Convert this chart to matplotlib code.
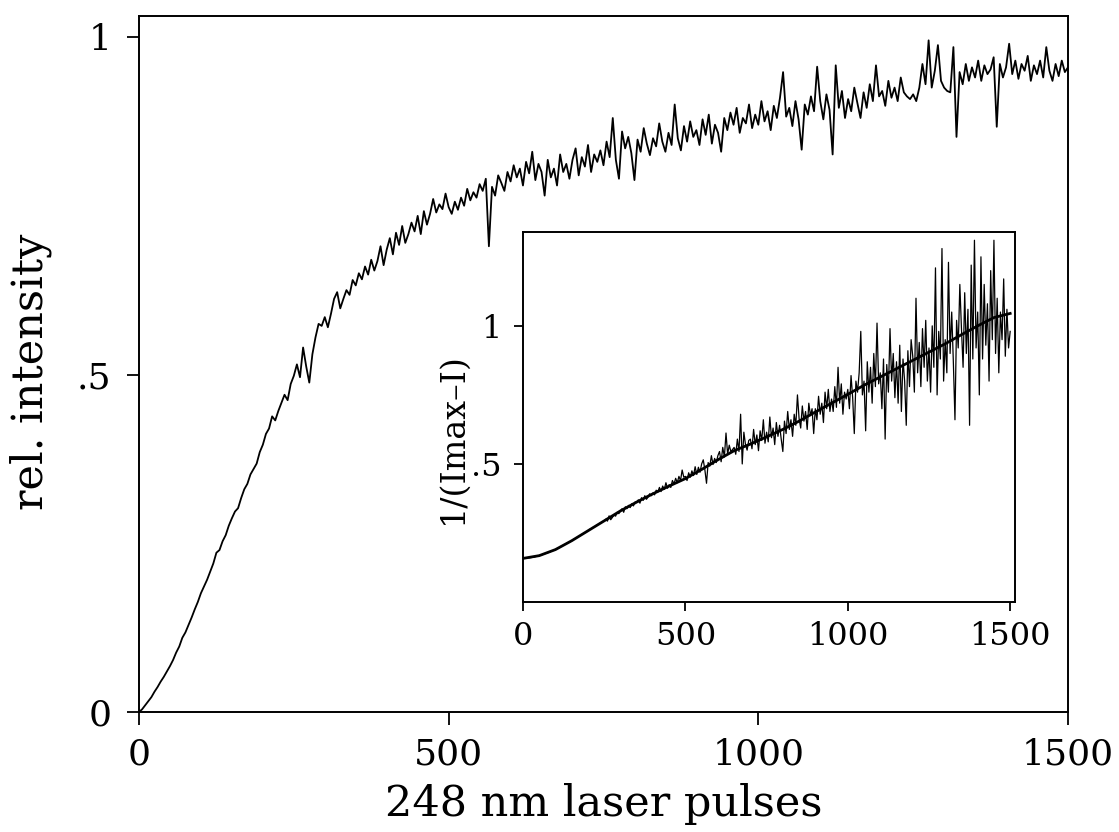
import numpy as np
import matplotlib
matplotlib.use('Agg')
import matplotlib.pyplot as plt

plt.rcParams['font.family'] = 'DejaVu Serif'

# main trace: rel. intensity, one value every 5 laser pulses (0 ... 1500)
pulse_step = 5
intensity = [
    0.000, 0.004, 0.010, 0.016, 0.022, 0.030, 0.037, 0.045, 0.052, 0.060,
    0.068, 0.077, 0.088, 0.097, 0.110, 0.118, 0.129, 0.140, 0.152, 0.163,
    0.176, 0.186, 0.196, 0.208, 0.220, 0.236, 0.240, 0.253, 0.262, 0.276,
    0.287, 0.297, 0.302, 0.317, 0.330, 0.338, 0.352, 0.360, 0.368, 0.385,
    0.396, 0.412, 0.420, 0.438, 0.432, 0.446, 0.458, 0.470, 0.462, 0.486,
    0.498, 0.515, 0.496, 0.540, 0.512, 0.488, 0.530, 0.555, 0.575, 0.572,
    0.585, 0.570, 0.590, 0.612, 0.622, 0.598, 0.612, 0.625, 0.618, 0.640,
    0.632, 0.650, 0.641, 0.660, 0.648, 0.670, 0.654, 0.668, 0.690, 0.662,
    0.685, 0.702, 0.678, 0.710, 0.692, 0.720, 0.695, 0.708, 0.725, 0.712,
    0.735, 0.708, 0.742, 0.722, 0.738, 0.760, 0.740, 0.752, 0.745, 0.768,
    0.748, 0.738, 0.756, 0.744, 0.762, 0.750, 0.775, 0.758, 0.770, 0.762,
    0.782, 0.772, 0.790, 0.690, 0.778, 0.765, 0.795, 0.784, 0.772, 0.800,
    0.786, 0.810, 0.792, 0.805, 0.780, 0.815, 0.798, 0.830, 0.788, 0.812,
    0.800, 0.765, 0.818, 0.792, 0.805, 0.780, 0.826, 0.800, 0.812, 0.790,
    0.818, 0.835, 0.795, 0.822, 0.808, 0.840, 0.800, 0.826, 0.815, 0.832,
    0.810, 0.845, 0.822, 0.880, 0.818, 0.790, 0.860, 0.835, 0.852, 0.828,
    0.788, 0.848, 0.830, 0.865, 0.842, 0.825, 0.850, 0.838, 0.872, 0.845,
    0.830, 0.858, 0.840, 0.900, 0.850, 0.832, 0.868, 0.845, 0.875, 0.852,
    0.862, 0.840, 0.878, 0.855, 0.885, 0.842, 0.870, 0.858, 0.830, 0.880,
    0.862, 0.888, 0.870, 0.895, 0.858, 0.880, 0.872, 0.900, 0.865, 0.885,
    0.870, 0.905, 0.875, 0.890, 0.862, 0.898, 0.880, 0.910, 0.948, 0.882,
    0.895, 0.868, 0.905, 0.878, 0.833, 0.900, 0.885, 0.912, 0.890, 0.956,
    0.905, 0.878, 0.915, 0.892, 0.826, 0.958, 0.895, 0.920, 0.880, 0.908,
    0.890, 0.925, 0.902, 0.880, 0.918, 0.895, 0.930, 0.905, 0.958, 0.912,
    0.920, 0.898, 0.935, 0.910, 0.925, 0.905, 0.940, 0.918, 0.912, 0.908,
    0.915, 0.905, 0.925, 0.960, 0.930, 0.995, 0.925, 0.950, 0.988, 0.935,
    0.925, 0.920, 0.918, 0.985, 0.852, 0.948, 0.930, 0.960, 0.935, 0.955,
    0.940, 0.965, 0.935, 0.958, 0.945, 0.952, 0.970, 0.867, 0.960, 0.940,
    0.955, 0.990, 0.945, 0.965, 0.938, 0.960, 0.950, 0.972, 0.935, 0.958,
    0.945, 0.965, 0.940, 0.985, 0.950, 0.935, 0.960, 0.942, 0.965, 0.948,
    0.955,
]

# inset: 1/(Imax-I), same pulse grid
inv_data = [
    0.158, 0.158, 0.159, 0.160, 0.160, 0.161, 0.162, 0.163, 0.165, 0.166,
    0.168, 0.170, 0.172, 0.174, 0.176, 0.178, 0.180, 0.183, 0.185, 0.188,
    0.190, 0.194, 0.196, 0.200, 0.203, 0.206, 0.209, 0.213, 0.216, 0.219,
    0.222, 0.226, 0.229, 0.233, 0.236, 0.240, 0.244, 0.247, 0.251, 0.254,
    0.258, 0.263, 0.265, 0.270, 0.272, 0.277, 0.280, 0.284, 0.287, 0.291,
    0.294, 0.300, 0.293, 0.312, 0.298, 0.306, 0.315, 0.311, 0.325, 0.320,
    0.330, 0.338, 0.325, 0.345, 0.338, 0.350, 0.342, 0.356, 0.348, 0.362,
    0.362, 0.370, 0.358, 0.378, 0.368, 0.385, 0.372, 0.380, 0.392, 0.385,
    0.395, 0.388, 0.405, 0.398, 0.415, 0.400, 0.420, 0.408, 0.432, 0.412,
    0.425, 0.415, 0.440, 0.428, 0.448, 0.432, 0.455, 0.440, 0.478, 0.452,
    0.455, 0.440, 0.468, 0.452, 0.475, 0.458, 0.490, 0.462, 0.488, 0.470,
    0.500, 0.515, 0.478, 0.430, 0.505, 0.492, 0.530, 0.498, 0.520, 0.505,
    0.530, 0.545, 0.508, 0.560, 0.525, 0.612, 0.535, 0.568, 0.545, 0.552,
    0.560, 0.535, 0.590, 0.545, 0.680, 0.500, 0.615, 0.570, 0.550, 0.585,
    0.590, 0.555, 0.625, 0.570, 0.605, 0.548, 0.620, 0.585, 0.660, 0.575,
    0.615, 0.580, 0.670, 0.595, 0.630, 0.570, 0.650, 0.600, 0.640, 0.590,
    0.545, 0.655, 0.610, 0.690, 0.625, 0.660, 0.600, 0.680, 0.640, 0.750,
    0.665, 0.630, 0.710, 0.655, 0.690, 0.625, 0.720, 0.675, 0.700, 0.610,
    0.700, 0.660, 0.745, 0.680, 0.720, 0.650, 0.760, 0.700, 0.770, 0.690,
    0.735, 0.690, 0.780, 0.705, 0.850, 0.720, 0.790, 0.680, 0.760, 0.735,
    0.770, 0.700, 0.820, 0.740, 0.610, 0.800, 0.760, 0.830, 0.980, 0.750,
    0.800, 0.620, 0.870, 0.760, 0.850, 0.720, 0.900, 0.780, 1.010, 0.790,
    0.830, 0.700, 0.880, 0.590, 0.860, 0.760, 0.990, 0.800, 0.900, 0.740,
    0.870, 0.720, 0.930, 0.690, 0.880, 0.800, 0.640, 0.910, 0.780, 0.950,
    0.890, 0.760, 1.100, 0.830, 0.940, 0.780, 0.990, 0.850, 1.020, 0.800,
    0.920, 0.760, 1.000, 0.850, 1.210, 0.750, 0.980, 0.880, 1.280, 0.800,
    0.950, 0.830, 1.230, 0.900, 1.050, 0.870, 0.660, 1.020, 0.920, 1.150,
    0.990, 0.850, 1.120, 0.900, 1.060, 0.640, 1.220, 0.880, 1.310, 0.920,
    1.050, 0.750, 1.250, 0.880, 1.150, 0.930, 1.080, 0.800, 1.200, 0.950,
    1.310, 0.900, 1.100, 0.830, 1.050, 0.950, 1.170, 0.890, 1.060, 0.920,
    0.980,
]

# smooth fit drawn through the inset data
fit_pulses = list(range(0, 1501, 50))
fit_values = [0.158, 0.168, 0.190, 0.222, 0.258, 0.294, 0.330, 0.362, 0.392, 0.420,
              0.447, 0.480, 0.515, 0.548, 0.572, 0.598, 0.625, 0.655, 0.688, 0.720,
              0.752, 0.785, 0.815, 0.845, 0.875, 0.905, 0.935, 0.968, 1.000, 1.030,
              1.045]

pulses = np.arange(len(intensity)) * pulse_step

fig = plt.figure(figsize=(11.19, 8.32), dpi=100)

ax = fig.add_axes([0.1242, 0.1442, 0.8302, 0.8365])
ax.plot(pulses, intensity, color='black', lw=1.3)
ax.set_xlim(0, 1500)
ax.set_ylim(0, 1.031)
ax.set_xticks([0, 500, 1000, 1500])
ax.set_yticks([0, 0.5, 1])
ax.set_yticklabels(['0', '.5', '1'])
ax.tick_params(axis='both', direction='out', length=9, width=1.3, labelsize=26)
ax.tick_params(axis='x', pad=9)
ax.tick_params(axis='y', pad=11)
for s in ax.spines.values():
    s.set_linewidth(1.4)
ax.set_xlabel('248 nm laser pulses', fontsize=31)
ax.set_ylabel('rel. intensity', fontsize=31)
ax.xaxis.set_label_coords(0.5, -0.102)
ax.yaxis.set_label_coords(-0.094, 0.4885)

ins = fig.add_axes([0.4674, 0.2764, 0.4397, 0.4448])
ins.plot(pulses, inv_data, color='black', lw=0.9)
ins.plot(fit_pulses, fit_values, color='black', lw=2.0)
ins.set_xlim(0, 1515)
ins.set_ylim(0, 1.34)
ins.set_xticks([0, 500, 1000, 1500])
ins.set_yticks([0.5, 1])
ins.set_yticklabels(['.5', '1'])
ins.tick_params(axis='both', direction='out', length=6.5, width=1.3, labelsize=23)
ins.tick_params(axis='x', pad=7)
ins.tick_params(axis='y', pad=9)
for s in ins.spines.values():
    s.set_linewidth(1.4)
ins.set_ylabel('1/(Imax\u2013I)', fontsize=24)
ins.yaxis.set_label_coords(-0.11, 0.442)

fig.savefig('out.png', dpi=100)
